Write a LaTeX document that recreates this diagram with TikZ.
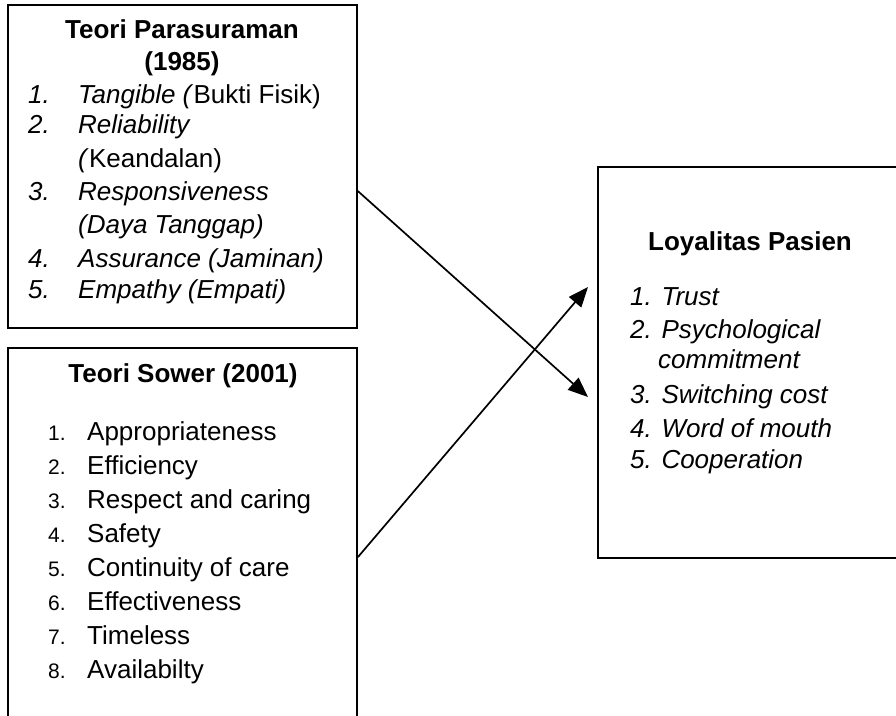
\documentclass[tikz,border=0pt]{standalone}
\usepackage{fontspec}
\setmainfont{Liberation Sans}
\usetikzlibrary{calc}
\usetikzlibrary{arrows.meta}

\tikzset{
  box/.style={draw, line width=1.8pt, inner sep=0pt},
  head/.style={anchor=base, inner sep=0pt, font=\fontsize{26}{31}\selectfont\bfseries},
  txt/.style={anchor=base west, inner sep=0pt, font=\fontsize{26}{31}\selectfont},
  num/.style={anchor=base west, inner sep=0pt, font=\fontsize{21}{25}\selectfont},
  link/.style={line width=1.7pt, -{Triangle[length=20pt,width=16pt]}}
}

\begin{document}
\begin{tikzpicture}[x=1pt,y=-1pt]
\useasboundingbox (0,0) rectangle (896,715);
\clip (0,0) rectangle (896,715);
% boxes
\node[box, minimum width=349pt, minimum height=323pt] (para) at (182.5,166.5) {};
\node[box, minimum width=349pt, minimum height=400pt] (sower) at (182.5,548) {};
\node[box, minimum width=304pt, minimum height=391pt] (loyal) at (750,362.5) {};
% Parasuraman
\node[head] (paraT) at (182,38) {Teori Parasuraman};
\node[head] (paraY) at (182,70) {(1985)};
\foreach \y/\n [count=\i] in {103/1., 133/2., 200/3., 267/4., 298/5.}
  \node[txt] (pn\i) at (28,\y) {\textit{\n}};
\foreach \y/\t [count=\i] in {103/{\textit{Tangible (}Bukti Fisik)}, 133/{\textit{Reliability}},
  167/{\textit{(}Keandalan)}, 200/{\textit{Responsiveness}}, 233/{\textit{(Daya Tanggap)}},
  267/{\textit{Assurance (Jaminan)}}, 298/{\textit{Empathy (Empati)}}}
  \node[txt] (pt\i) at (78,\y) {\t};
% Sower
\node[head] (sowerT) at (183,382) {Teori Sower (2001)};
\foreach \t [count=\i, evaluate=\i as \y using 440+34*(\i-1)] in {Appropriateness, Efficiency,
  Respect and caring, Safety, Continuity of care, Effectiveness, Timeless, Availabilty} {
  \node[num] (sn\i) at (48,\y) {\i.};
  \node[txt] (st\i) at (87,\y) {\t};
}
% Loyalitas
\node[head] (loyalT) at (750,250) {Loyalitas Pasien};
\foreach \y/\t [count=\i] in {305/{1. Trust}, 338/{2. Psychological}, 403/{3. Switching cost},
  437/{4. Word of mouth}, 468/{5. Cooperation}}
  \node[txt] (lt\i) at (630,\y) {\textit{\t}};
\node[txt] (ltc) at (658,368) {\textit{commitment}};
% arrows
\coordinate (tipA) at (588,397);
\coordinate (tipB) at (588,287);
\draw[link] ($(para.north east)+(0,187)$) -- (tipA);
\draw[link] ($(sower.north east)+(0,210)$) -- (tipB);
\end{tikzpicture}
\end{document}
